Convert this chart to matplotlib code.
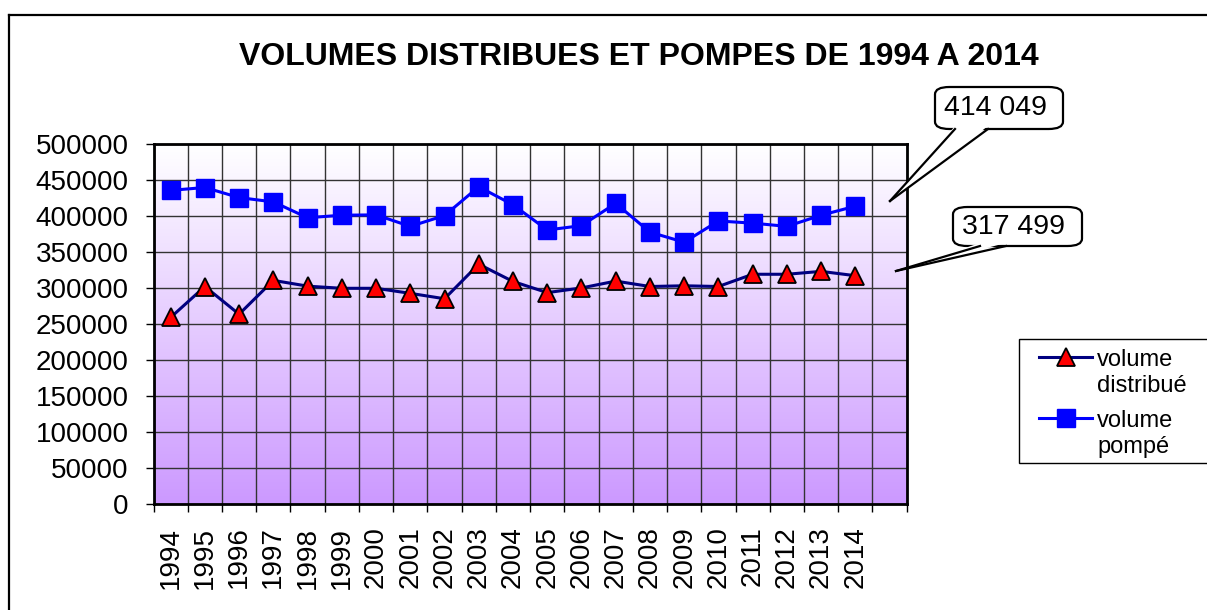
import numpy as np
import matplotlib
matplotlib.use("Agg")
import matplotlib.pyplot as plt
from matplotlib.colors import LinearSegmentedColormap
from matplotlib.patches import Polygon, FancyBboxPatch, Rectangle
from matplotlib.lines import Line2D

# ------------------- data -------------------
years = [str(y) for y in range(1994, 2015)]
categories = years + [""]          # Excel left an empty slot after 2014
vol_pompe = [436000, 440000, 426000, 420000, 398000, 401500, 402000,
             386000, 401000, 441000, 416000, 381000, 387000, 418000,
             378000, 364000, 393500, 390500, 386000, 401500, 414049]
vol_distribue = [259500, 302500, 264000, 311000, 303000, 300000, 300000,
                 293000, 285500, 333500, 309500, 294000, 300500, 310000,
                 302500, 303500, 302500, 319500, 319500, 323500, 317499]
yticks = list(range(0, 500001, 50000))
series_labels = [["volume", "distribué"], ["volume", "pompé"]]
callouts = ["414 049", "317 499"]
title = "VOLUMES DISTRIBUES ET POMPES DE 1994 A 2014"

W, H = 1207, 610
plt.rcParams['font.family'] = ['Liberation Sans', 'DejaVu Sans']

fig = plt.figure(figsize=(W / 100, H / 100), dpi=100)
fig.patch.set_facecolor("white")


def px(x, y):
    return (x / W, 1 - y / H)


# ------------------- axes -------------------
l, t = px(153.5, 144.3)
r, b = px(906.7, 504.3)
ax = fig.add_axes([l, b, r - l, t - b])

n = len(categories)
xs = np.arange(len(years))

# gradient background (white -> lavender)
cmap = LinearSegmentedColormap.from_list("bg", ["#CC99FF", "#FFFFFF"])
grad = np.linspace(0, 1, 256).reshape(-1, 1)
ax.imshow(grad, cmap=cmap, origin="lower", aspect="auto",
          extent=[-0.5, n - 0.5, 0, 500000], zorder=0)

l1, = ax.plot(xs, vol_distribue, color="#000080", lw=2.2, marker="^", ms=13,
              mfc="#FF0000", mec="black", mew=1.3, zorder=4)
l2, = ax.plot(xs, vol_pompe, color="#0000FF", lw=2.2, marker="s", ms=12.5,
              mfc="#0000FF", mec="#0000FF", zorder=4)

ax.set_xlim(-0.5, n - 0.5)
ax.set_ylim(0, 500000)

ax.set_yticks(yticks)
ax.set_yticklabels([str(v) for v in yticks], fontsize=20)
ax.tick_params(axis="y", length=5.8, width=1, pad=12)
ax.grid(axis="y", color="#333333", lw=1, zorder=1)

ax.set_xticks(np.arange(n))
ax.set_xticklabels(categories, rotation=90, fontsize=20)
ax.tick_params(axis="x", which="major", length=0, pad=16)
ax.set_xticks(np.arange(n + 1) - 0.5, minor=True)
ax.tick_params(axis="x", which="minor", length=5.8, width=1)
ax.grid(axis="x", which="minor", color="#333333", lw=1, zorder=1)
ax.set_axisbelow(False)
for line in ax.get_xgridlines() + ax.get_ygridlines():
    line.set_zorder(1)

for s in ax.spines.values():
    s.set_color("black")
    s.set_linewidth(2)
    s.set_zorder(5)

# ------------------- title -------------------
fig.text(*px(639, 57), title, ha="center", va="center",
         fontsize=23, fontweight="bold")

# ------------------- legend (Excel style: handle on first text line) -------------------
bl = px(1019, 463)
tr = px(W + 5, 339)
fig.patches.append(Rectangle(bl, tr[0] - bl[0], tr[1] - bl[1],
                             transform=fig.transFigure, facecolor="white",
                             edgecolor="black", lw=1, zorder=1))
for src, words, hy in zip([l1, l2], series_labels, [357, 418]):
    hx = [px(1039, hy)[0], px(1065.5, hy)[0], px(1092, hy)[0]]
    h = Line2D(hx, [px(0, hy)[1]] * 3, transform=fig.transFigure,
               color=src.get_color(), lw=src.get_linewidth(),
               marker=src.get_marker(), ms=src.get_markersize(),
               mfc=src.get_markerfacecolor(), mec=src.get_markeredgecolor(),
               mew=src.get_markeredgewidth(), markevery=[1], zorder=3)
    fig.lines.append(h)
    fig.text(*px(1097, hy + 9), words[0], fontsize=17, va="baseline")
    fig.text(*px(1097, hy + 35), words[1], fontsize=17, va="baseline")

# ------------------- callouts -------------------
boxes = [(935, 87, 1063, 129, (955, 988), (890, 201)),
         (953, 207, 1082, 246, (980, 1006), (896, 271))]
for label, (x0, y0, x1, y1, (b0, b1), tip) in zip(callouts, boxes):
    bl = px(x0, y1)
    tr = px(x1, y0)
    box = FancyBboxPatch(bl, tr[0] - bl[0], tr[1] - bl[1],
                         boxstyle="round,pad=0,rounding_size=0.012",
                         transform=fig.transFigure, facecolor="white",
                         edgecolor="black", lw=1.6, zorder=6)
    fig.patches.append(box)
    wedge = Polygon([px(b0, y1 - 3), px(b1, y1 - 3), px(*tip)], closed=True,
                    transform=fig.transFigure, facecolor="white",
                    edgecolor="none", zorder=7)
    fig.patches.append(wedge)
    for bx in (b0, b1):
        p0, p1 = px(bx, y1), px(*tip)
        fig.lines.append(Line2D([p0[0], p1[0]], [p0[1], p1[1]],
                                transform=fig.transFigure, color="black",
                                lw=1.6, zorder=8))
    fig.text(*px((x0 + x1) / 2 - 4, (y0 + y1) / 2), label, ha="center",
             va="center", fontsize=20.5, zorder=9)

# ------------------- outer chart border -------------------
for xy in ([px(9, 15), px(W + 5, 15)], [px(9, 15), px(9, H + 5)]):
    fig.lines.append(Line2D([xy[0][0], xy[1][0]], [xy[0][1], xy[1][1]],
                            transform=fig.transFigure, color="black", lw=1.6))

fig.savefig("out.png", dpi=100)
